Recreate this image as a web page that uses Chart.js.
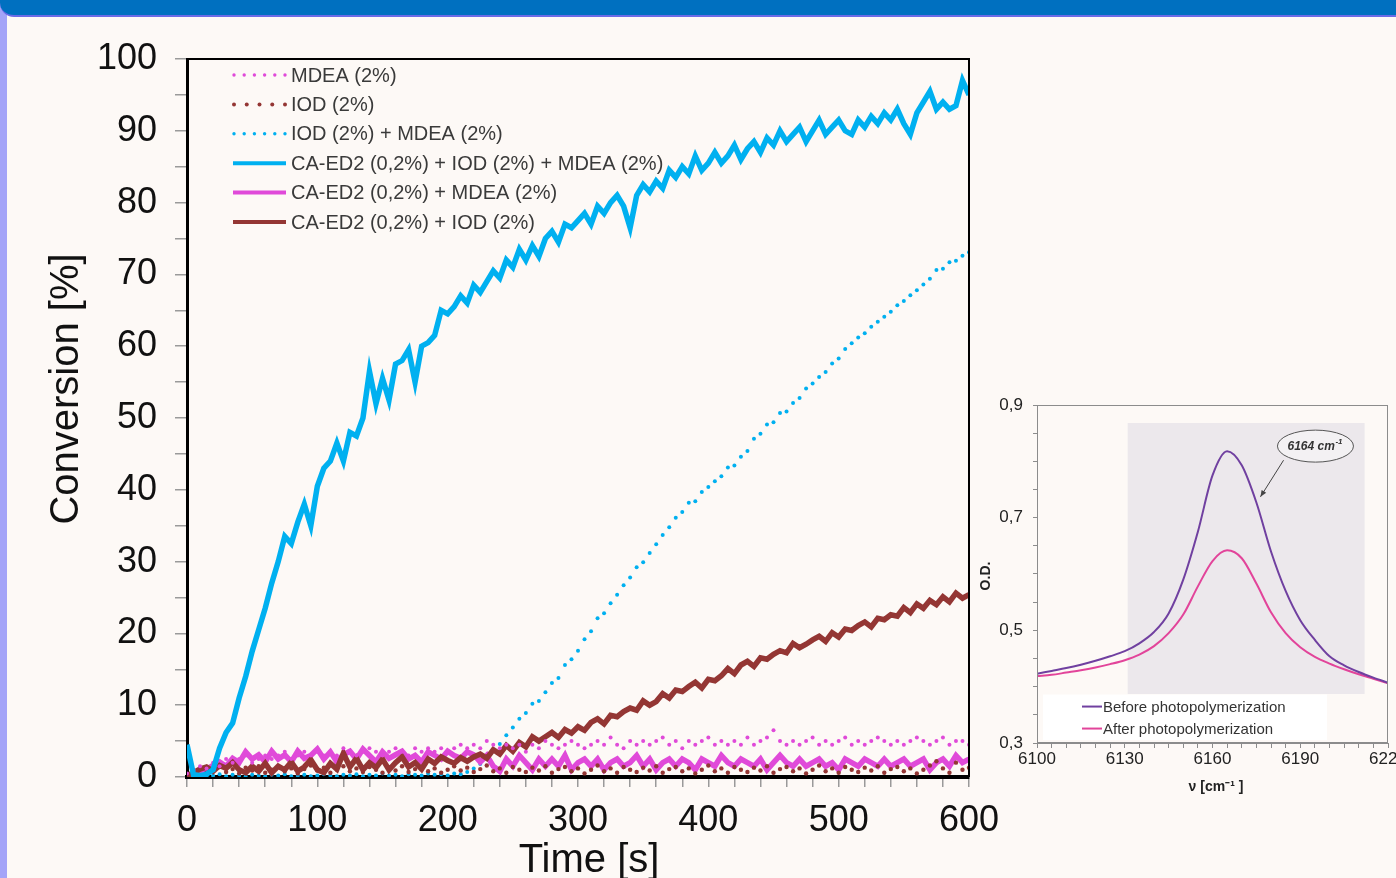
<!DOCTYPE html>
<html lang="es">
<head>
<meta charset="utf-8">
<script src="https://cdn.jsdelivr.net/npm/chart.js@4.4.1/dist/chart.umd.min.js"></script>
<style>
  html, body { margin:0; padding:0; width:1396px; height:878px; overflow:hidden; background:#fdf9f6; }
  #franja { position:absolute; left:0; top:0; width:7px; height:878px; background:#a4a4f8; }
  #barra { position:absolute; left:0; top:0; width:1396px; height:15px; background:#0070c0; border-bottom:2px solid #6b6be6; border-bottom-left-radius:14px; }
  #cMain { position:absolute; left:0; top:0; }
  #cInset { position:absolute; left:978px; top:380px; }
</style>
</head>
<body>
<div id="franja"></div>
<div id="barra"></div>
<canvas id="cMain" width="1020" height="878"></canvas>
<canvas id="cInset" width="442" height="430"></canvas>
<script>
// =========================================
// DATOS - CONVERSION vs TIEMPO
// =========================================
const tiempos = [0,5,10,15,20,25,30,35,40,45,50,55,60,65,70,75,80,85,90,95,
  100,105,110,115,120,125,130,135,140,145,150,155,160,165,170,175,180,185,190,195,
  200,205,210,215,220,225,230,235,240,245,250,255,260,265,270,275,280,285,290,295,
  300,305,310,315,320,325,330,335,340,345,350,355,360,365,370,375,380,385,390,395,
  400,405,410,415,420,425,430,435,440,445,450,455,460,465,470,475,480,485,490,495,
  500,505,510,515,520,525,530,535,540,545,550,555,560,565,570,575,580,585,590,595,600];

// MDEA (2%)
const mdeaPuntos = [0.5,1,1.5,1.2,2,1.5,2.5,2,2.5,3,2,2.5,3,2.5,3,3.5,2.5,3,3.5,3,
  3.5,3,3.5,3,4,3.5,3,3.5,4,3.5,3,3.5,4,3.5,3,4,3.5,4,3.5,4,
  3.5,4,4.5,4,4.5,4,5,4.5,4,4.5,4,4.5,3.5,4.5,4,5,4.5,4,4.5,5,
  4.5,4,4.5,5,4.5,5.5,4.5,4,5,4.5,5,4.5,5,5.5,4.5,5,4,5,4.5,5,
  5.5,4.5,5,4.5,5,4.5,5.5,4.5,5,5.5,6.5,5,4.5,5,4.5,5,5.5,4.5,5,4.5,
  5,5.5,4.5,5,4.5,5,5.5,5,4.5,5,4.5,5,5.5,5,4.5,5,5.5,4.5,5,5,4.5];

// IOD (2%)
const iodPuntos = [0.3,0.8,1.2,0.6,1,1.4,0.7,1.1,0.5,1.3,0.9,1.5,0.6,1,1.4,0.8,1.2,0.5,1.1,1.6,
  0.9,1.3,0.6,1,1.5,0.8,1.2,0.7,1.4,1,0.6,1.3,0.9,1.5,0.7,1.1,1.4,0.8,1.2,0.6,
  1,1.5,0.9,1.3,0.7,1.1,1.6,0.8,1.2,0.6,1.4,1,0.7,1.3,0.9,1.5,0.6,1.1,1.4,0.8,
  1.2,0.5,1,1.6,0.8,1.2,0.6,1.4,1,0.7,1.3,0.9,1.5,0.6,1.1,1.4,0.8,1.2,0.5,1,
  1.6,0.8,1.2,0.6,1.4,1,0.7,1.3,0.9,1.5,0.6,1.1,1.4,0.8,1.2,0.5,1,1.6,0.8,1.2,
  0.6,1.4,1,0.7,1.3,0.9,1.5,0.6,1.1,1.4,0.8,1.2,0.5,1,1.6,2.2,1.2,0.6,2,1,1.3];

// IOD (2%) + MDEA (2%)
const iodMdeaPuntos = [0.2,0.1,0.3,0.1,0.2,0.4,0.1,0.3,0.2,0.1,0.3,0.2,0.1,0.3,0.2,0.4,0.1,0.2,0.3,0.1,
  0.2,0.4,0.2,0.1,0.3,0.2,0.4,0.1,0.3,0.2,0.5,0.2,0.3,0.1,0.4,0.3,0.2,0.5,0.3,0.4,
  0.2,0.5,0.4,0.7,1.2,1.8,2.6,3.6,4.6,5.8,6.9,8.1,8.9,10.2,10.6,11.8,13.1,13.8,15.6,16.4,
  17.6,19.2,20.3,22.1,22.8,24.2,25.4,26.7,27.8,29.2,29.9,31.2,32.4,33.7,34.8,36.1,36.9,38.2,38.4,39.7,
  40.4,41.2,41.9,43.1,43.4,44.6,45.4,47.1,47.8,49.1,49.4,50.7,50.9,52.1,52.8,54.1,54.8,55.7,56.4,57.6,
  58.3,59.6,60.4,61.2,61.8,62.7,63.4,64.1,64.8,65.7,66.3,67.1,67.8,68.6,69.4,70.6,70.8,71.7,71.9,72.6,73.1];

// CA-ED2 (0,2%) + IOD (2%) + MDEA (2%)
const caIodMdea = [4.5,0.3,0.2,0.4,1,4,6.2,7.5,11,14,17.5,20.5,23.5,27,30,33.5,32.5,35.5,38,35,
  40.5,43,44,46.5,44,48,47.5,50,56.5,52,55.5,52.5,57.5,58,59.5,55,60,60.5,61.5,65,
  64.5,65.5,67,66,68.5,67.5,69,70.5,69.5,72,71,73.5,72,74,72.5,75,76,74.5,77,76.5,
  77.5,78.5,77,79.5,78.5,80,81,79.5,76.5,81,82.5,81.5,83,82,84.5,83.5,85,84,86.5,84.5,
  85.5,87,85.5,86.5,88,86,87.5,88.5,87,89,88,90,88.5,89.5,90.5,88.5,90,91.5,89.5,90.5,
  91.5,90,89.5,91.5,90.5,92,91,92.5,91.5,93,91,89.5,92.5,94,95.5,93,94,93,93.5,97,95];

// CA-ED2 (0,2%) + MDEA (2%)
const caMdea = [0.1,0.4,0.9,1.1,1.6,2.1,1.5,2.6,2,3.5,2.5,3.1,2.1,3.6,2.5,3.1,2.1,3.6,2.6,3,
  3.9,2.5,3.5,2.1,3.1,3.6,2.5,3.9,3,2.1,3.5,2.6,3.1,3.6,2.5,3,2.1,3.5,3,2.5,
  3.6,3,2.6,3.5,3.1,2.1,3,1.5,0.8,2.5,1.5,3,2,1,2.5,1.5,2.5,1.5,3,1,
  2,2.5,1.5,2.5,1,2,2.5,1.5,2,3,1.5,2.5,1,2,2.5,1.5,2.5,2,1,2.5,
  2,1.5,3,2,1.5,2.5,2,1.5,2.5,1,2,3,2,1.5,2.5,1.5,2,2.5,1.5,2,
  1,2.5,2,1.5,2.5,2,1.5,2.5,1.5,2,2.5,1.5,2,2.5,1,2,2.5,1.5,3,2,2.5];

// CA-ED2 (0,2%) + IOD (2%)
const caIod = [0.2,0.6,1.1,1.4,0.8,1.6,1.2,2,1,0.6,1.5,0.8,1.9,0.6,1.5,1,2.1,0.8,1.4,2.4,
  1,0.6,1.9,1.1,3.3,1.4,2.6,1,2,1.3,2.5,1,2,2.8,1.4,2,1.1,2.5,1.9,2.8,
  2.3,1.9,2.7,2.2,2.8,3.2,2.6,3.8,3.2,4.4,3.6,4.8,4.2,5.6,5,5.6,6.2,5.5,6.6,6.1,
  7,6.5,7.6,8.1,7.4,8.6,8.4,9.1,9.6,9.3,10.6,10,10.5,11.6,11,12.1,11.9,12.6,13.2,12.4,
  13.6,13.4,14.1,15.1,14.4,15.6,16.1,15.4,16.6,16.4,17.1,17.6,17.3,18.6,18,18.5,19.1,19.6,18.9,20.1,
  19.5,20.6,20.4,21.1,21.6,20.9,22.1,21.9,22.6,22.4,23.6,22.9,24.1,23.5,24.6,24,25.1,24.4,25.6,24.9,25.4];

// =========================================
// DATOS - ESPECTRO (INSET)
// =========================================
const numerosOnda = [6100,6105,6110,6115,6120,6125,6130,6135,6140,6145,6150,6155,6160,
  6165,6170,6175,6180,6185,6190,6195,6200,6205,6210,6215,6220];
const antes = [0.423,0.428,0.433,0.439,0.446,0.454,0.463,0.477,0.497,0.530,0.590,0.675,0.775,
  0.818,0.793,0.727,0.640,0.570,0.518,0.483,0.454,0.438,0.426,0.416,0.407];
const despues = [0.419,0.421,0.425,0.429,0.434,0.440,0.447,0.457,0.472,0.495,0.528,0.578,0.623,
  0.642,0.628,0.583,0.532,0.495,0.470,0.453,0.441,0.431,0.422,0.414,0.406];

const FUENTE = "'Liberation Sans', Arial, sans-serif";

function pares(xs, ys){
  return xs.map((x, i) => ({ x: x, y: ys[i] }));
}

// =========================================
// PLUGIN GRAFICO PRINCIPAL
// =========================================
const marcoPrincipal = {
  id: 'marcoPrincipal',
  afterDraw(chart){
    const ctx = chart.ctx;
    const a = chart.chartArea;

    ctx.save();
    // marco
    ctx.strokeStyle = '#000';
    ctx.lineWidth = 2;
    ctx.beginPath();
    ctx.moveTo(a.left, a.top);
    ctx.lineTo(a.right, a.top);
    ctx.lineTo(a.right, a.bottom);
    ctx.stroke();

    // leyenda
    ctx.font = '20px ' + FUENTE;
    ctx.textBaseline = 'middle';
    ctx.textAlign = 'left';
    chart.data.datasets.forEach((ds, i) => {
      const y = a.top + 16 + i * 29.4;
      const x0 = a.left + 47, x1 = a.left + 98;
      if (ds.showLine === false) {
        const n = ds.puntosLeyenda;
        ctx.fillStyle = ds.pointBackgroundColor;
        for (let k = 0; k < n; k++) {
          const x = x0 + (x1 - x0) * k / (n - 1);
          ctx.beginPath();
          ctx.arc(x, y, ds.radioLeyenda, 0, Math.PI * 2);
          ctx.fill();
        }
      } else {
        ctx.strokeStyle = ds.borderColor;
        ctx.lineWidth = 4;
        ctx.beginPath();
        ctx.moveTo(x0 - 1, y);
        ctx.lineTo(x1 + 1, y);
        ctx.stroke();
      }
      ctx.fillStyle = '#3a3a3a';
      ctx.fillText(ds.label, a.left + 104, y + 1);
    });

    // titulos de ejes
    ctx.fillStyle = '#111';
    ctx.font = '40px ' + FUENTE;
    ctx.textAlign = 'center';
    ctx.textBaseline = 'alphabetic';
    ctx.fillText('Time [s]', 589, 872);
    ctx.translate(78, 389);
    ctx.rotate(-Math.PI / 2);
    ctx.fillText('Conversion [%]', 0, 0);
    ctx.restore();
  }
};

new Chart(document.getElementById('cMain'), {
  type: 'line',
  data: {
    datasets: [
      { label: 'MDEA (2%)', data: pares(tiempos, mdeaPuntos), showLine: false,
        pointRadius: 2, pointBorderWidth: 0, pointBackgroundColor: '#e04ad9', borderColor: '#e04ad9',
        puntosLeyenda: 6, radioLeyenda: 1.7, order: 2 },
      { label: 'IOD (2%)', data: pares(tiempos, iodPuntos), showLine: false,
        pointRadius: 2.2, pointBorderWidth: 0, pointBackgroundColor: '#943634', borderColor: '#943634',
        puntosLeyenda: 5, radioLeyenda: 2, order: 3 },
      { label: 'IOD (2%) + MDEA (2%)', data: pares(tiempos, iodMdeaPuntos), showLine: false,
        pointRadius: 2, pointBorderWidth: 0, pointBackgroundColor: '#00b0f0', borderColor: '#00b0f0',
        puntosLeyenda: 6, radioLeyenda: 1.7, order: 6 },
      { label: 'CA-ED2 (0,2%) + IOD (2%) + MDEA (2%)', data: pares(tiempos, caIodMdea),
        borderColor: '#00b0f0', borderWidth: 5.5, pointRadius: 0, tension: 0, order: 1 },
      { label: 'CA-ED2 (0,2%) + MDEA (2%)', data: pares(tiempos, caMdea),
        borderColor: '#e04ad9', borderWidth: 5.5, pointRadius: 0, tension: 0, order: 5 },
      { label: 'CA-ED2 (0,2%) + IOD (2%)', data: pares(tiempos, caIod),
        borderColor: '#943634', borderWidth: 5.5, pointRadius: 0, tension: 0, order: 4 }
    ]
  },
  options: {
    responsive: false,
    devicePixelRatio: 1,
    animation: false,
    layout: { padding: { left: 40, top: 59, right: 51, bottom: 0 } },
    plugins: { legend: { display: false }, tooltip: { enabled: false } },
    scales: {
      x: {
        type: 'linear', min: 0, max: 600,
        afterFit(s){ s.height = 101; },
        ticks: { stepSize: 20, autoSkip: false, maxRotation: 0, padding: 12,
          color: '#111', font: { family: FUENTE, size: 36 },
          callback: v => v % 100 === 0 ? v : '' },
        grid: { drawOnChartArea: false, drawTicks: true, tickLength: 10, color: '#9a9a9a', lineWidth: 1.5 },
        border: { display: true, color: '#000', width: 4 }
      },
      y: {
        min: 0, max: 100,
        afterFit(s){ s.width = 147; },
        ticks: { stepSize: 5, autoSkip: false, padding: 18,
          color: '#111', font: { family: FUENTE, size: 36 },
          callback: v => v % 10 === 0 ? v : '' },
        grid: { drawOnChartArea: false, drawTicks: true, tickLength: 12, color: '#9a9a9a', lineWidth: 1.5 },
        border: { display: true, color: '#000', width: 3 }
      }
    }
  },
  plugins: [marcoPrincipal]
});

// =========================================
// PLUGIN INSET
// =========================================
const decoInset = {
  id: 'decoInset',
  beforeDatasetsDraw(chart){
    const ctx = chart.ctx;
    const xs = chart.scales.x, ys = chart.scales.y;
    ctx.save();
    ctx.fillStyle = '#ece8ec';
    const x0 = xs.getPixelForValue(6131), x1 = xs.getPixelForValue(6212);
    const y0 = ys.getPixelForValue(0.868), y1 = ys.getPixelForValue(0.387);
    ctx.fillRect(x0, y0, x1 - x0, y1 - y0);
    ctx.restore();
  },
  afterDraw(chart){
    const ctx = chart.ctx;
    const a = chart.chartArea;
    const xs = chart.scales.x, ys = chart.scales.y;
    ctx.save();

    // marco
    ctx.strokeStyle = '#8c8c8c';
    ctx.lineWidth = 1;
    ctx.strokeRect(a.left + 0.5, a.top + 0.5, a.right - a.left - 1, a.bottom - a.top - 1);

    // leyenda
    const lx0 = a.left + 6, ly0 = ys.getPixelForValue(0.386);
    ctx.fillStyle = '#ffffff';
    ctx.fillRect(lx0, ly0, 284, a.bottom - 3 - ly0);
    ctx.font = '15px ' + FUENTE;
    ctx.textBaseline = 'middle';
    ctx.textAlign = 'left';
    chart.data.datasets.forEach((ds, i) => {
      const y = ly0 + 12 + i * 22;
      ctx.strokeStyle = ds.borderColor;
      ctx.lineWidth = 2;
      ctx.beginPath();
      ctx.moveTo(a.left + 45, y);
      ctx.lineTo(a.left + 65, y);
      ctx.stroke();
      ctx.fillStyle = '#333';
      ctx.fillText(ds.label, a.left + 66, y + 1);
    });

    // anotacion 6164 cm-1
    const ex = xs.getPixelForValue(6195.2), ey = ys.getPixelForValue(0.827);
    ctx.beginPath();
    ctx.ellipse(ex, ey, 38, 16, 0, 0, Math.PI * 2);
    ctx.fillStyle = '#f3f1f3';
    ctx.fill();
    ctx.strokeStyle = '#555';
    ctx.lineWidth = 1;
    ctx.stroke();
    ctx.fillStyle = '#333';
    ctx.font = 'italic bold 12px ' + FUENTE;
    ctx.textAlign = 'left';
    ctx.fillText('6164 cm', ex - 28, ey + 1);
    ctx.font = 'italic bold 8px ' + FUENTE;
    ctx.fillText('-1', ex + 20, ey - 4);

    const ax0 = xs.getPixelForValue(6184.3), ay0 = ys.getPixelForValue(0.802);
    const ax1 = xs.getPixelForValue(6176.4), ay1 = ys.getPixelForValue(0.737);
    ctx.strokeStyle = '#444';
    ctx.beginPath();
    ctx.moveTo(ax0, ay0);
    ctx.lineTo(ax1, ay1);
    ctx.stroke();
    const ang = Math.atan2(ay1 - ay0, ax1 - ax0);
    ctx.fillStyle = '#444';
    ctx.beginPath();
    ctx.moveTo(ax1, ay1);
    ctx.lineTo(ax1 - 7 * Math.cos(ang - 0.4), ay1 - 7 * Math.sin(ang - 0.4));
    ctx.lineTo(ax1 - 7 * Math.cos(ang + 0.4), ay1 - 7 * Math.sin(ang + 0.4));
    ctx.closePath();
    ctx.fill();

    // titulos de ejes
    ctx.fillStyle = '#222';
    ctx.font = 'bold 14px ' + FUENTE;
    ctx.textAlign = 'center';
    ctx.textBaseline = 'middle';
    ctx.fillText('\u03BD [cm\u207B\u00B9 ]', 1216 - 978, 787 - 380);
    ctx.translate(986 - 978, 576 - 380);
    ctx.rotate(-Math.PI / 2);
    ctx.fillText('O.D.', 0, 0);
    ctx.restore();
  }
};

new Chart(document.getElementById('cInset'), {
  type: 'line',
  data: {
    datasets: [
      { label: 'Before photopolymerization', data: pares(numerosOnda, antes),
        borderColor: '#7040a0', borderWidth: 2, pointRadius: 0, cubicInterpolationMode: 'monotone' },
      { label: 'After photopolymerization', data: pares(numerosOnda, despues),
        borderColor: '#e2449a', borderWidth: 2, pointRadius: 0, cubicInterpolationMode: 'monotone' }
    ]
  },
  options: {
    responsive: false,
    devicePixelRatio: 1,
    animation: false,
    layout: { padding: { left: 0, top: 25, right: 32, bottom: 0 } },
    plugins: { legend: { display: false }, tooltip: { enabled: false } },
    scales: {
      x: {
        type: 'linear', min: 6100, max: 6220,
        afterFit(s){ s.height = 67; },
        ticks: { stepSize: 5, autoSkip: false, maxRotation: 0, padding: 1,
          color: '#222', font: { family: FUENTE, size: 17 },
          callback: v => (v - 6100) % 30 === 0 ? v : '' },
        grid: { drawOnChartArea: false, drawTicks: true, tickLength: 5, color: '#8c8c8c' },
        border: { display: true, color: '#8c8c8c', width: 1 }
      },
      y: {
        min: 0.3, max: 0.9,
        afterFit(s){ s.width = 59; },
        ticks: { stepSize: 0.05, autoSkip: false, padding: 10,
          color: '#222', font: { family: FUENTE, size: 17 },
          callback: v => {
            const k = (v - 0.3) / 0.2;
            return Math.abs(k - Math.round(k)) < 1e-6 ? v.toFixed(1).replace('.', ',') : '';
          } },
        grid: { drawOnChartArea: false, drawTicks: true, tickLength: 4, color: '#8c8c8c' },
        border: { display: true, color: '#8c8c8c', width: 1 }
      }
    }
  },
  plugins: [decoInset]
});
</script>
</body>
</html>
